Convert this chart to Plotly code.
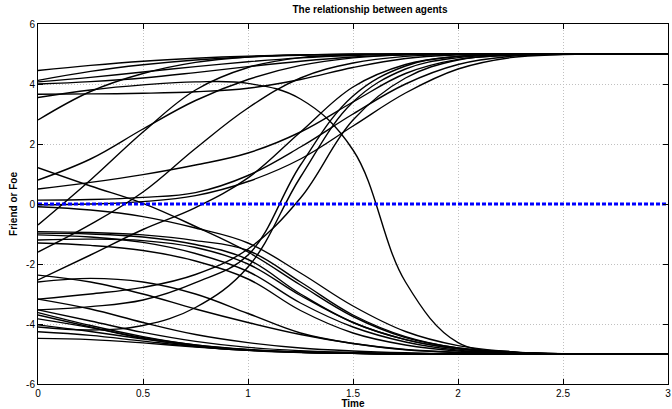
import plotly.graph_objects as go

# Sample times (s)
t = [0, 0.25, 0.5, 0.75, 1.0, 1.25, 1.5, 1.75, 2.0, 2.25, 2.5, 3.0]

# Curves converging to +5 ("friend")
u1 = [4.45, 4.62, 4.76, 4.86, 4.93, 4.97, 4.99, 5, 5, 5, 5, 5]
u2 = [4.12, 4.42, 4.64, 4.80, 4.90, 4.96, 4.99, 5, 5, 5, 5, 5]
u3 = [4.07, 4.22, 4.40, 4.58, 4.74, 4.87, 4.95, 4.99, 5, 5, 5, 5]
u4 = [4.00, 4.08, 4.20, 4.38, 4.58, 4.76, 4.90, 4.97, 5, 5, 5, 5]
u5 = [3.66, 3.67, 3.69, 3.74, 3.86, 4.15, 4.55, 4.85, 4.97, 5, 5, 5]
u6 = [2.80, 3.75, 4.35, 4.72, 4.90, 4.97, 4.99, 5, 5, 5, 5, 5]
e1 = [0.80, 1.50, 2.50, 3.45, 4.15, 4.62, 4.87, 4.97, 5, 5, 5, 5]
h1 = [-0.70, 0.80, 2.40, 3.80, 4.55, 4.88, 4.97, 5, 5, 5, 5, 5]
b1 = [-1.60, -0.68, 0.40, 1.85, 3.20, 4.20, 4.70, 4.92, 4.98, 5, 5, 5]
c1 = [-2.53, -1.70, -0.85, -0.12, 0.87, 2.40, 3.90, 4.65, 4.92, 4.99, 5, 5]
f1 = [0.50, 0.72, 0.98, 1.30, 1.70, 2.40, 3.40, 4.35, 4.82, 4.96, 5, 5]
g1 = [0.13, 0.15, 0.22, 0.38, 0.95, 1.90, 3.00, 4.00, 4.65, 4.92, 4.99, 5]
g2 = [-0.03, 0.00, 0.08, 0.28, 0.75, 1.50, 2.60, 3.70, 4.50, 4.88, 4.98, 5]
r1 = [-3.53, -3.42, -3.20, -2.62, -1.70, 1.30, 3.60, 4.60, 4.92, 4.99, 5, 5]
r2 = [-4.10, -4.20, -4.05, -3.45, -2.10, 0.90, 3.40, 4.50, 4.88, 4.98, 5, 5]
r3 = [-3.17, -3.00, -2.78, -2.35, -1.50, 0.20, 2.80, 4.20, 4.80, 4.96, 5, 5]

# Curve that rises then switches to -5 ("foe")
hump = [3.55, 3.80, 3.97, 4.07, 4.02, 3.50, 1.80, -2.60, -4.62, -4.92, -4.99, -5]

# Curves converging to -5 ("foe")
m1 = [1.21, 0.60, 0.02, -0.75, -1.60, -2.70, -3.75, -4.45, -4.80, -4.94, -4.99, -5]
m2 = [-0.09, -0.20, -0.42, -0.80, -1.30, -2.30, -3.40, -4.25, -4.72, -4.92, -4.99, -5]
m3 = [-0.92, -0.95, -1.03, -1.22, -1.55, -2.60, -3.70, -4.42, -4.80, -4.94, -4.99, -5]
m4 = [-0.97, -1.00, -1.10, -1.35, -1.85, -3.00, -3.95, -4.52, -4.83, -4.95, -5, -5]
m5 = [-1.03, -1.10, -1.28, -1.65, -2.25, -3.30, -4.10, -4.60, -4.87, -4.96, -5, -5]
m6 = [-1.20, -1.17, -1.22, -1.45, -2.00, -3.05, -3.95, -4.52, -4.83, -4.95, -5, -5]
m7 = [-1.30, -1.38, -1.55, -1.90, -2.50, -3.55, -4.30, -4.70, -4.90, -4.97, -5, -5]
m8 = [-2.37, -2.60, -3.00, -3.50, -3.95, -4.35, -4.65, -4.85, -4.94, -4.98, -5, -5]
m9 = [-2.60, -2.48, -2.60, -3.00, -3.65, -4.30, -4.65, -4.86, -4.95, -4.99, -5, -5]
k1 = [-3.53, -3.90, -4.28, -4.58, -4.78, -4.89, -4.95, -4.98, -5, -5, -5, -5]
k2 = [-3.62, -4.05, -4.42, -4.70, -4.86, -4.94, -4.98, -5, -5, -5, -5, -5]
k3 = [-3.70, -4.10, -4.48, -4.74, -4.88, -4.95, -4.98, -5, -5, -5, -5, -5]
k4 = [-3.83, -4.12, -4.45, -4.70, -4.85, -4.93, -4.97, -4.99, -5, -5, -5, -5]
k5 = [-4.26, -4.38, -4.57, -4.75, -4.87, -4.94, -4.98, -5, -5, -5, -5, -5]
k6 = [-4.48, -4.52, -4.63, -4.77, -4.88, -4.94, -4.98, -5, -5, -5, -5, -5]
k7 = [-3.17, -3.50, -3.95, -4.35, -4.62, -4.80, -4.90, -4.96, -4.99, -5, -5, -5]
k8 = [-4.03, -4.25, -4.50, -4.72, -4.86, -4.94, -4.98, -5, -5, -5, -5, -5]

# Neutral reference line
ref_t = [0, 3]
ref_v = [0, 0]

x_ticks = [0, 0.5, 1, 1.5, 2, 2.5, 3]
x_labels = ["0", "0.5", "1", "1.5", "2", "2.5", "3"]
y_ticks = [-6, -4, -2, 0, 2, 4, 6]
y_labels = ["-6", "-4", "-2", "0", "2", "4", "6"]

curves = [u1, u2, u3, u4, u5, u6, e1, h1, b1, c1, f1, g1, g2, r1, r2, r3, hump,
          m1, m2, m3, m4, m5, m6, m7, m8, m9, k1, k2, k3, k4, k5, k6, k7, k8]

fig = go.Figure()
for v in curves:
    fig.add_trace(go.Scatter(x=t, y=v, mode="lines",
                             line=dict(color="black", width=1.4, shape="spline", smoothing=1.1),
                             showlegend=False, hoverinfo="skip"))
fig.add_trace(go.Scatter(x=ref_t, y=ref_v, mode="lines",
                         line=dict(color="#0000ff", width=3, dash="4px,2px"),
                         showlegend=False, hoverinfo="skip"))

font = "Liberation Sans, Arial, Helvetica, sans-serif"
axis_common = dict(showline=True, linecolor="black", linewidth=1, mirror="ticks",
                   ticks="inside", ticklen=5, tickcolor="black",
                   showgrid=True, gridcolor="#c0c0c0", griddash="1px,2px", gridwidth=1,
                   zeroline=False, ticklabeloverflow="allow",
                   tickfont=dict(family=font, size=10, color="black"))

fig.update_layout(
    width=672, height=409,
    margin=dict(l=38, r=1, t=24, b=25),
    paper_bgcolor="white", plot_bgcolor="white",
    title=dict(text="<b>The relationship between agents</b>", x=0.527, xanchor="center",
               xref="paper", y=0.985, yanchor="top",
               font=dict(family=font, size=10, color="black")),
    xaxis=dict(range=[0, 3], tickvals=x_ticks, ticktext=x_labels,
               title=dict(text="<b>Time</b>", standoff=0,
                          font=dict(family=font, size=10, color="black")),
               **axis_common),
    yaxis=dict(range=[-6, 6], tickvals=y_ticks, ticktext=y_labels,
               title=dict(text="<b>Friend or Foe</b>", standoff=6,
                          font=dict(family=font, size=10, color="black")),
               **axis_common),
)

fig.write_html("out.html")
